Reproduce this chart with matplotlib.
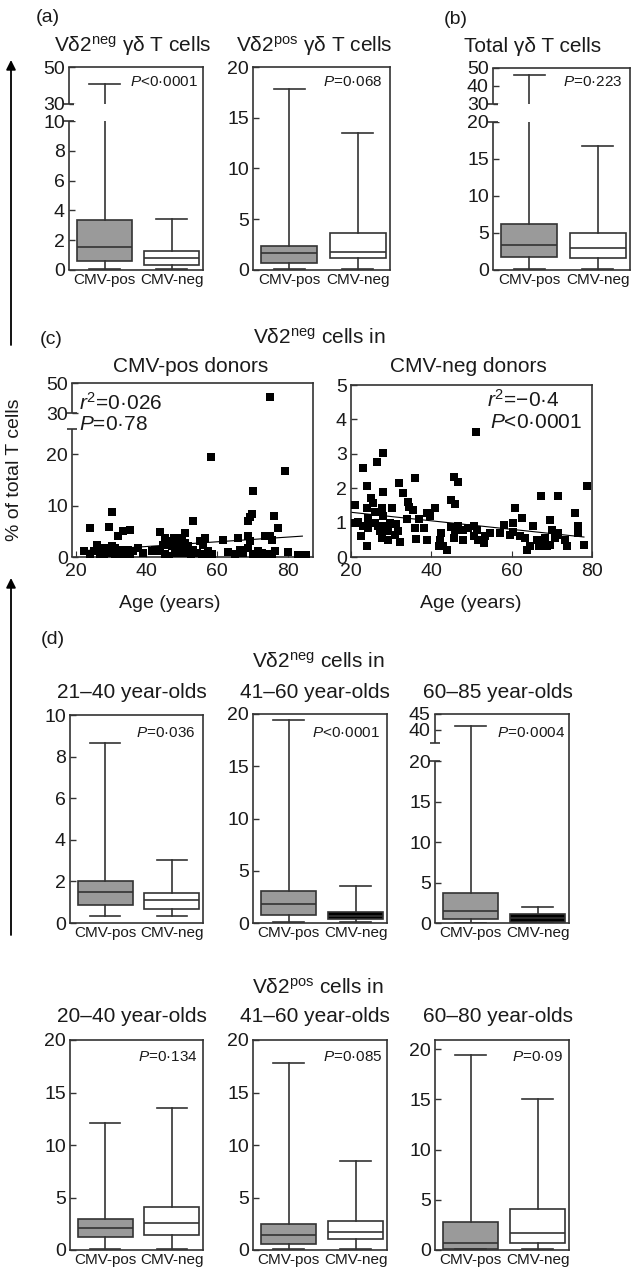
import numpy as np
import matplotlib
matplotlib.use('Agg')
import matplotlib.pyplot as plt

plt.rcParams['font.family'] = ['Liberation Sans', 'DejaVu Sans']
plt.rcParams['mathtext.fontset'] = 'custom'
plt.rcParams['mathtext.rm'] = 'Liberation Sans'
plt.rcParams['mathtext.it'] = 'Liberation Sans:italic'
plt.rcParams['mathtext.bf'] = 'Liberation Sans:bold'

W, H = 634, 1274
GRAY = '#9a9a9a'
LINE = '#333333'
TXT = '#1a1a1a'

groups = ['CMV-pos', 'CMV-neg']

# box stats: whislo, q1, median, q3, whishi
a1_pos = [0.1, 0.62, 1.55, 3.33, 40.8]
a1_neg = [0.1, 0.33, 0.8, 1.29, 3.45]
a2_pos = [0.1, 0.72, 1.7, 2.36, 17.8]
a2_neg = [0.1, 1.15, 1.75, 3.6, 13.5]
b_pos = [0.1, 1.8, 3.4, 6.2, 46]
b_neg = [0.1, 1.6, 2.9, 5.0, 16.7]
d1_pos = [0.35, 0.87, 1.48, 2.03, 8.64]
d1_neg = [0.35, 0.69, 1.1, 1.46, 3.03]
d2_pos = [0.05, 0.77, 1.83, 3.1, 19.45]
d2_neg = [0.05, 0.35, 0.7, 1.03, 3.56]
d3_pos = [0.05, 0.46, 1.49, 3.73, 41.3]
d3_neg = [0.05, 0.1, 0.6, 1.17, 2.0]
e1_pos = [0.12, 1.27, 2.06, 2.98, 12.1]
e1_neg = [0.12, 1.43, 2.6, 4.07, 13.5]
e2_pos = [0.12, 0.57, 1.46, 2.5, 17.8]
e2_neg = [0.12, 1.05, 1.74, 2.76, 8.48]
e3_pos = [0.05, 0.1, 0.66, 2.83, 19.4]
e3_neg = [0.12, 0.66, 1.73, 4.06, 15.0]

# (c) scatter: age, % of T cells
c1_age = [75, 58.2, 79.2, 70, 30.2, 24.1, 29.3, 31.9, 33.3, 35.4, 43.7, 53.2, 50.9, 47.9, 46.2,
          69.2, 68.7, 69.9, 76, 77.2, 74.8, 75.3, 73.4, 68.7, 69.2, 65.9, 61.7, 56.5, 55.1, 56,
          49.9, 49, 50.9, 51.8, 45.3, 46.2, 44.8, 47.1,
          22.3, 26.0, 26.5, 25.1, 27.4, 28.4, 29.3, 30.2, 31.2, 32.1, 33.1, 34.0, 34.9, 36.3,
          37.7, 39.1, 41.5, 42.4, 26.8, 28, 31, 33.5, 35.5, 24,
          43.8, 45.3, 48.1, 50.4, 49.5, 51.8, 53.2, 54.2, 55.6, 58.4, 57.5, 46.5, 52.5, 56.5,
          66.3, 67.3, 68.7, 70.1, 71.5, 72.5, 73.4, 74.3, 76.2, 80, 82.8, 84.9, 70.5, 72, 75.5, 65, 63]
c1_val = [41, 19.5, 16.7, 12.8, 8.7, 5.7, 5.9, 4.1, 5.0, 5.2, 4.8, 7.1, 4.7, 3.7, 3.1,
          7.7, 7.0, 8.3, 7.9, 5.7, 4.1, 3.4, 4.1, 4.1, 3.1, 3.7, 3.4, 3.7, 3.1, 2.4,
          3.7, 2.8, 2.8, 2.1, 3.7, 2.4, 2.4, 2.1,
          1.1, 2.4, 1.4, 1.1, 1.1, 1.8, 0.8, 2.1, 1.8, 0.8, 1.4, 1.1, 1.4, 1.1,
          1.8, 0.8, 1.1, 1.4, 0.5, 0.3, 0.5, 0.4, 0.6, 0.6,
          1.1, 0.5, 0.8, 0.8, 1.4, 1.1, 1.4, 0.8, 0.5, 0.5, 1.1, 0.2, 0.3, 0.1,
          1.4, 0.8, 1.8, 0.5, 1.1, 0.8, 0.1, 0.5, 1.1, 1.0, 0.3, 0.3, 0.2, 0.3, 0.2, 0.5, 1.0]
c2_age = [51.2, 28, 26.4, 22.9, 24, 32, 35.9, 28, 33, 21, 25, 25.5, 34.3, 34.4, 35.4, 30.1,
          27.6, 24.1, 41, 38.8, 45.7, 46.7, 45, 45.9, 21.8, 24.3, 24.3, 24.3, 26, 26.8, 27.2,
          28, 28.4, 29.7, 29.3, 31.3, 31.8, 22.6, 24.1, 27.6, 29.3, 32.2, 31, 35.9, 36.3, 38.2,
          38.8, 39.6, 42.5, 42.1, 41.9, 43, 44, 45, 45.9, 46.7, 45.7, 47.9, 47.9, 49.2,
          67.3, 71.6, 78.7, 60.9, 62.5, 75.8, 76.6, 76.6, 77.9, 58, 60.4, 54.6, 50.5, 51.3,
          50.5, 51.7, 53, 53.4, 59.6, 60.4, 62.1, 63.4, 63.8, 64.6, 65.4, 66.3, 66.7, 67.5,
          68.3, 68.7, 69.5, 70, 70.8, 71.6, 73.3, 73.7, 69.6, 71.5, 57.2, 21, 23, 26, 34, 37]
c2_val = [3.62, 3.03, 2.77, 2.58, 2.05, 2.16, 2.31, 1.9, 1.87, 1.52, 1.71, 1.58, 1.6, 1.45, 1.37, 1.42,
          1.42, 1.42, 1.42, 1.28, 2.34, 2.19, 1.66, 1.54, 1.03, 1.13, 0.98, 0.84, 1.0, 0.9, 0.75,
          1.2, 0.89, 1.0, 0.75, 0.95, 0.76, 0.6, 0.33, 0.55, 0.5, 0.45, 0.65, 0.84, 0.52, 0.84,
          0.48, 1.18, 0.7, 0.5, 0.33, 0.33, 0.21, 0.87, 0.79, 0.89, 0.55, 0.5, 0.79, 0.84,
          1.78, 1.78, 2.05, 1.42, 1.13, 1.28, 0.89, 0.7, 0.34, 0.94, 0.99, 0.7, 0.89, 0.79,
          0.6, 0.5, 0.41, 0.6, 0.65, 0.74, 0.6, 0.55, 0.21, 0.31, 0.89, 0.5, 0.31, 0.41,
          0.55, 0.31, 0.36, 0.79, 0.55, 0.65, 0.5, 0.33, 1.08, 0.7, 0.7, 1.0, 0.9, 1.3, 1.1, 1.1]

# regression lines: intercept, slope, age range
c1_fit = (0.2, 0.046, 22, 84)
c2_fit = (1.548, -0.0124, 20, 78)

fig = plt.figure(figsize=(W / 100, H / 100), dpi=100)


def px_axes(l, t, r, b):
    return fig.add_axes([l / W, 1 - b / H, (r - l) / W, (b - t) / H])


def piecewise(a, b):
    a = np.asarray(a, float)
    b = np.asarray(b, float)
    s0 = (b[1] - b[0]) / (a[1] - a[0])
    s1 = (b[-1] - b[-2]) / (a[-1] - a[-2])

    def f(v):
        v = np.asarray(v, float)
        out = np.interp(v, a, b)
        out = np.where(v < a[0], b[0] + (v - a[0]) * s0, out)
        out = np.where(v > a[-1], b[-1] + (v - a[-1]) * s1, out)
        return out
    return f


def broken_y(ax, xp, fp):
    ax.set_yscale('function', functions=(piecewise(xp, fp), piecewise(fp, xp)))


def style(ax):
    for s in ax.spines.values():
        s.set_linewidth(1.2)
        s.set_color(LINE)
    ax.tick_params(axis='y', direction='in', length=4, width=1, labelsize=14, pad=3,
                   colors=LINE, labelcolor=TXT)


def spine_break(ax, ylim, lo, hi, mask=False):
    ax.spines['left'].set_visible(False)
    tr = ax.get_yaxis_transform()
    c = 5 / (ax.get_position().width * W)
    kw = dict(transform=tr, color=LINE, lw=1.2, clip_on=False, solid_capstyle='butt')
    ax.plot([0, 0], [ylim[0], lo], **kw)
    ax.plot([0, 0], [hi, ylim[1]], **kw)
    ax.plot([-c, c], [lo, lo], **kw)
    ax.plot([-c, c], [hi, hi], **kw)
    if mask:
        ax.axhspan(lo, hi, xmin=0.04, xmax=0.96, color='white', lw=0, zorder=2.4)
    ax.set_ylim(*ylim)


def boxes(ax, pos, neg, neg_fill='white'):
    stats = []
    for name, v in zip(groups, [pos, neg]):
        stats.append(dict(label=name, whislo=v[0], q1=v[1], med=v[2], q3=v[3],
                          whishi=v[4], fliers=[]))
    art = ax.bxp(stats, positions=[1, 2], widths=0.82, capwidths=0.45,
                 patch_artist=True, showfliers=False,
                 boxprops=dict(linewidth=1.2, edgecolor=LINE),
                 whiskerprops=dict(linewidth=1.2, color=LINE),
                 capprops=dict(linewidth=1.2, color=LINE),
                 medianprops=dict(linewidth=1.2, color=LINE))
    art['boxes'][0].set_facecolor(GRAY)
    art['boxes'][1].set_facecolor(neg_fill)
    ax.set_xlim(0.47, 2.47)
    ax.tick_params(axis='x', length=0, labelsize=11, pad=2, labelcolor=TXT)
    style(ax)


# ---- (a) and (b)
a1 = px_axes(69, 67, 203, 270)
broken_y(a1, [0, 10, 30, 50], [0, 149, 166, 203])
boxes(a1, a1_pos, a1_neg)
a1.set_yticks([0, 2, 4, 6, 8, 10, 30, 50])
spine_break(a1, (0, 50), 10, 30, mask=True)

a2 = px_axes(253, 67, 390, 270)
boxes(a2, a2_pos, a2_neg)
a2.set_yticks([0, 5, 10, 15, 20])
a2.set_ylim(0, 20)

bx = px_axes(493, 68, 630, 270)
broken_y(bx, [0, 20, 30, 50], [0, 148.3, 166, 202])
boxes(bx, b_pos, b_neg)
bx.set_yticks([0, 5, 10, 15, 20, 30, 40, 50])
spine_break(bx, (0, 50), 20, 30, mask=True)

# ---- (c)
c1 = px_axes(72, 383, 313, 557)
broken_y(c1, [0, 25, 30, 50], [0, 127, 142, 172])
c1.scatter(c1_age, c1_val, marker='s', s=28, color='black', linewidths=0, zorder=3)
xs = np.array(c1_fit[2:])
c1.plot(xs, c1_fit[0] + c1_fit[1] * xs, color='black', lw=0.8)
c1.set_xlim(19, 87)
c1.set_xticks([20, 40, 60, 80])
c1.set_yticks([0, 10, 20, 30, 50])
style(c1)
c1.tick_params(axis='x', direction='in', length=4, labelsize=14, pad=4, colors=LINE, labelcolor=TXT)
spine_break(c1, (0, 50), 25, 30)

c2 = px_axes(351, 385, 592, 557)
c2.scatter(c2_age, c2_val, marker='s', s=28, color='black', linewidths=0, zorder=3)
xs = np.array(c2_fit[2:])
c2.plot(xs, c2_fit[0] + c2_fit[1] * xs, color='black', lw=0.8)
c2.set_xlim(20, 80)
c2.set_ylim(0, 5)
c2.set_xticks([20, 40, 60, 80])
c2.set_yticks([0, 1, 2, 3, 4, 5])
style(c2)
c2.tick_params(axis='x', direction='in', length=4, labelsize=14, pad=4, colors=LINE, labelcolor=TXT)

# ---- (d) V delta 2 neg by age
d1 = px_axes(70, 715, 203, 923)
boxes(d1, d1_pos, d1_neg)
d1.set_yticks([0, 2, 4, 6, 8, 10])
d1.set_ylim(0, 10)

d2 = px_axes(253, 714, 387, 923)
boxes(d2, d2_pos, d2_neg, neg_fill='black')
d2.set_yticks([0, 5, 10, 15, 20])
d2.set_ylim(0, 20)

d3 = px_axes(435, 714, 569, 923)
broken_y(d3, [0, 20, 36, 45], [0, 161, 179.4, 208])
boxes(d3, d3_pos, d3_neg, neg_fill='black')
d3.set_yticks([0, 5, 10, 15, 20, 40, 45])
spine_break(d3, (0, 45), 20, 36)

# ---- (d) V delta 2 pos by age
e1 = px_axes(70, 1040, 203, 1250)
boxes(e1, e1_pos, e1_neg)
e1.set_yticks([0, 5, 10, 15, 20])
e1.set_ylim(0, 20)

e2 = px_axes(253, 1040, 387, 1250)
boxes(e2, e2_pos, e2_neg)
e2.set_yticks([0, 5, 10, 15, 20])
e2.set_ylim(0, 20)

e3 = px_axes(435, 1040, 569, 1250)
boxes(e3, e3_pos, e3_neg)
e3.set_yticks([0, 5, 10, 15, 20])
e3.set_ylim(0, 20.9)

# ---- overlay for free text and arrows (pixel coordinates)
ov = fig.add_axes([0, 0, 1, 1])
ov.set_xlim(0, W)
ov.set_ylim(H, 0)
ov.axis('off')

arrow = dict(arrowstyle='-|>', color='black', lw=1.3, mutation_scale=14, shrinkA=0, shrinkB=0)
ov.annotate('', xy=(11, 60), xytext=(11, 345), arrowprops=arrow)
ov.annotate('', xy=(11, 578), xytext=(11, 935), arrowprops=arrow)
ov.text(15, 470, '% of total T cells', rotation=90, ha='center', va='center', fontsize=14, color=TXT)

tk = dict(ha='center', va='center', color=TXT)
ov.text(48, 18, '(a)', fontsize=14, **tk)
ov.text(456, 19, '(b)', fontsize=14, **tk)
ov.text(51, 339, '(c)', fontsize=14, **tk)
ov.text(53, 640, '(d)', fontsize=14, **tk)

ov.text(133, 46, 'Vδ2$^{\\rm neg}$ γδ T cells', fontsize=15, **tk)
ov.text(314, 46, 'Vδ2$^{\\rm pos}$ γδ T cells', fontsize=15, **tk)
ov.text(533, 46, 'Total γδ T cells', fontsize=15, **tk)

ov.text(319, 338, 'Vδ2$^{\\rm neg}$ cells in', fontsize=15, **tk)
ov.text(191, 367, 'CMV-pos donors', fontsize=15, **tk)
ov.text(468, 367, 'CMV-neg donors', fontsize=15, **tk)
ov.text(170, 603, 'Age (years)', fontsize=14, **tk)
ov.text(471, 603, 'Age (years)', fontsize=14, **tk)

lt = dict(ha='left', va='center', color=TXT, fontsize=15)
ov.text(79, 403, '$r^2$=0·026', **lt)
ov.text(79, 424, '$P$=0·78', **lt)
ov.text(487, 400, '$r^2$=−0·4', **lt)
ov.text(490, 422, '$P$<0·0001', **lt)

ov.text(318, 662, 'Vδ2$^{\\rm neg}$ cells in', fontsize=15, **tk)
ov.text(132, 692, '21–40 year-olds', fontsize=15, **tk)
ov.text(315, 692, '41–60 year-olds', fontsize=15, **tk)
ov.text(498, 692, '60–85 year-olds', fontsize=15, **tk)

ov.text(318, 988, 'Vδ2$^{\\rm pos}$ cells in', fontsize=15, **tk)
ov.text(132, 1017, '20–40 year-olds', fontsize=15, **tk)
ov.text(315, 1017, '41–60 year-olds', fontsize=15, **tk)
ov.text(498, 1017, '60–80 year-olds', fontsize=15, **tk)

pv = dict(ha='right', va='center', color=TXT, fontsize=11)
ov.text(198, 82, '$P$<0·0001', **pv)
ov.text(382, 82, '$P$=0·068', **pv)
ov.text(622, 82, '$P$=0·223', **pv)
ov.text(195, 733, '$P$=0·036', **pv)
ov.text(380, 733, '$P$<0·0001', **pv)
ov.text(565, 733, '$P$=0·0004', **pv)
ov.text(198, 1057, '$P$=0·134', **pv)
ov.text(382, 1057, '$P$=0·085', **pv)
ov.text(563, 1057, '$P$=0·09', **pv)

fig.savefig('out.png', dpi=100)
